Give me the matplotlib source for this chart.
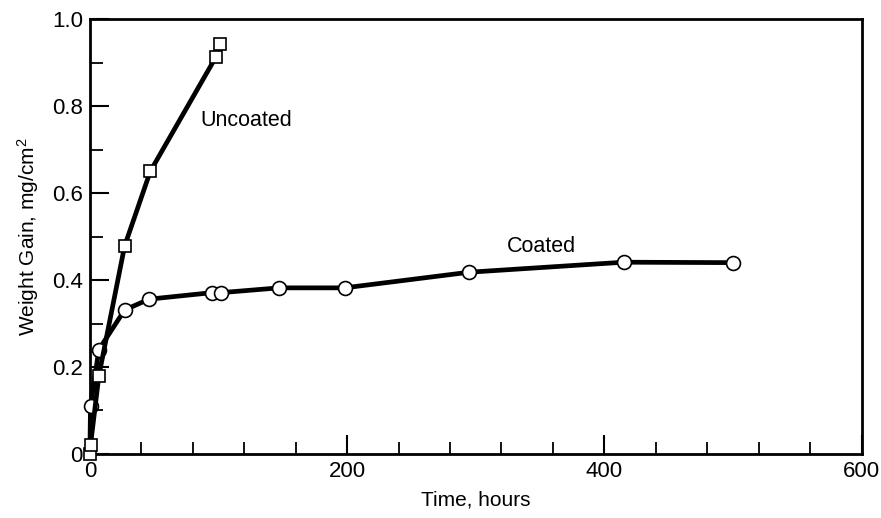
import numpy as np
import matplotlib
matplotlib.use("Agg")
import matplotlib.pyplot as plt
from matplotlib.ticker import MultipleLocator

plt.rcParams['font.family'] = ['Liberation Sans', 'DejaVu Sans']
plt.rcParams['mathtext.fontset'] = 'custom'
plt.rcParams['mathtext.rm'] = 'Liberation Sans'
plt.rcParams['mathtext.it'] = 'Liberation Sans'

# dane
t_unc = [0, 0.5, 7, 27, 47, 98, 101]
w_unc = [0.0, 0.02, 0.18, 0.478, 0.65, 0.913, 0.942]
t_coat = [0, 0.5, 7, 27, 46, 95, 102, 147, 198, 295, 415, 500]
w_coat = [0.0, 0.11, 0.24, 0.331, 0.356, 0.371, 0.371, 0.382, 0.382, 0.418, 0.441, 0.440]

fig = plt.figure(figsize=(8.81, 5.18), dpi=100)
ax = fig.add_axes([0.102, 0.1236, 0.876, 0.8395])

ax.plot(t_coat, w_coat, color='black', lw=3.4, marker='o', ms=10,
        mfc='white', mec='black', mew=1.2, clip_on=False, zorder=3,
        markevery=list(range(1, len(t_coat))))
ax.plot(t_unc, w_unc, color='black', lw=3.4, marker='s', ms=9,
        mfc='white', mec='black', mew=1.2, clip_on=False, zorder=4)

ax.text(86, 0.768, 'Uncoated', fontsize=15.5, va='center')
ax.text(324, 0.476, 'Coated', fontsize=15.5, va='center')

ax.set_xlim(0, 600)
ax.set_ylim(0, 1.0)
ax.xaxis.set_major_locator(MultipleLocator(200))
ax.xaxis.set_minor_locator(MultipleLocator(40))
ax.yaxis.set_major_locator(MultipleLocator(0.2))
ax.yaxis.set_minor_locator(MultipleLocator(0.1))
ax.set_yticks([0, 0.2, 0.4, 0.6, 0.8, 1.0])
ax.set_yticklabels(['0', '0.2', '0.4', '0.6', '0.8', '1.0'])
ax.tick_params(which='major', direction='in', length=14, width=1.5,
               labelsize=16, top=False, right=False, pad=5)
ax.tick_params(which='minor', direction='in', length=9, width=1.3,
               top=False, right=False)
for s in ax.spines.values():
    s.set_linewidth(2)

ax.set_xlabel('Time, hours', fontsize=15, labelpad=6)
ax.set_ylabel('Weight Gain, mg/cm$^2$', fontsize=15, labelpad=8)

plt.savefig("out.png", dpi=100)
plt.close()
